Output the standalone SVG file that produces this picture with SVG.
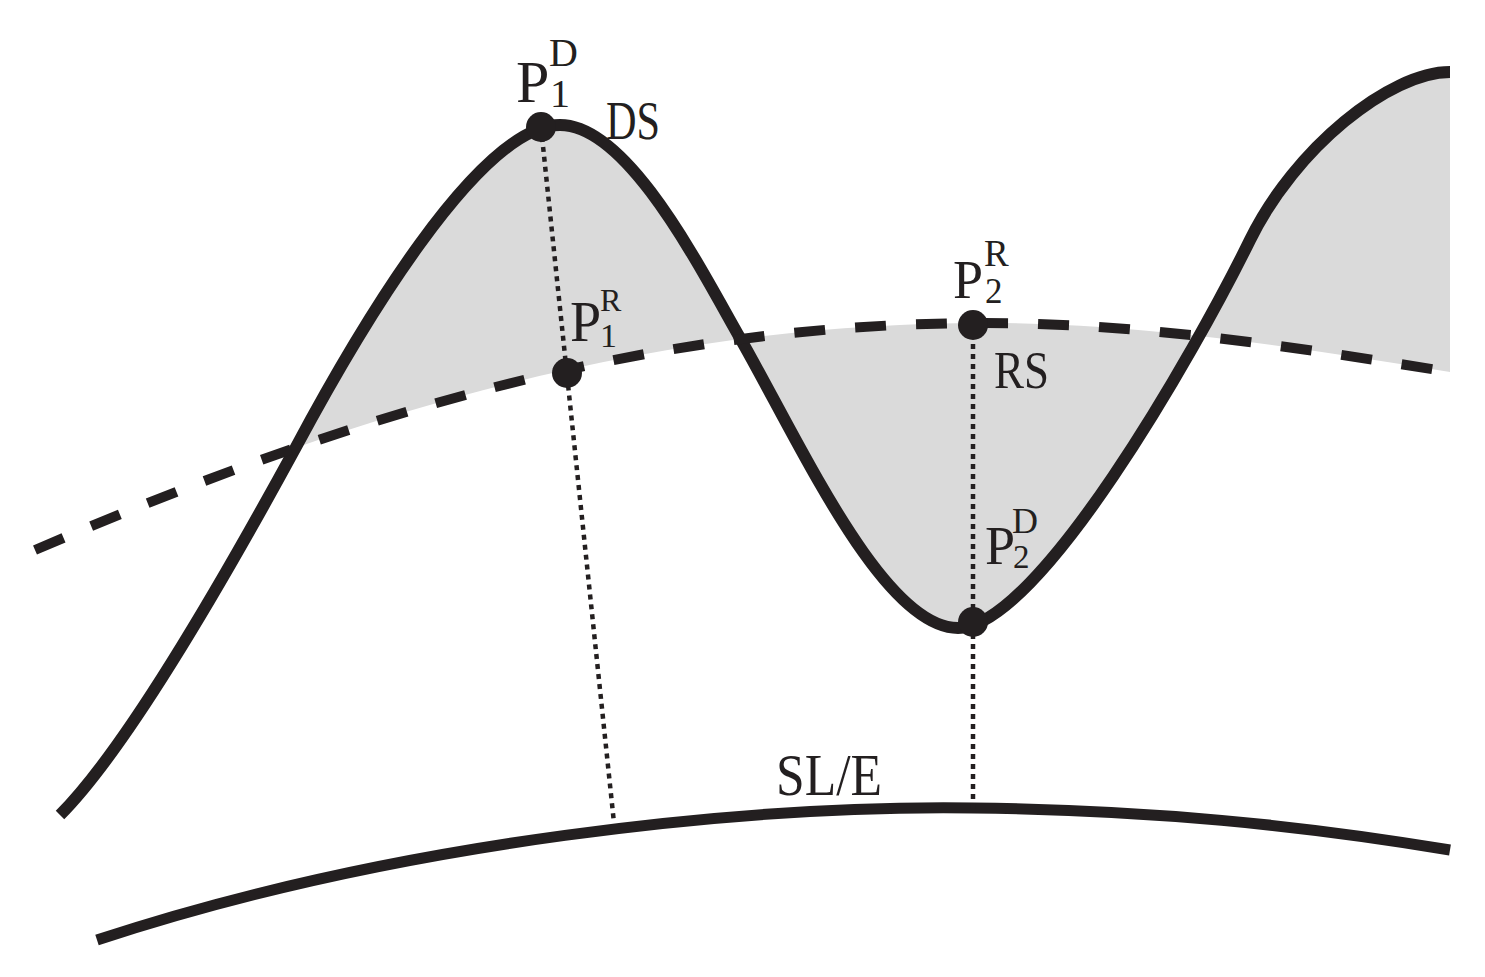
<svg xmlns="http://www.w3.org/2000/svg" width="1485" height="977" viewBox="0 0 1485 977">
  <style>
    .ink { fill: none; stroke: #231f20; stroke-linecap: butt; }
    .ds { stroke-width: 12; }
    .rs { stroke-width: 10; stroke-dasharray: 31 30; }
    .sle { stroke-width: 11; }
    .dot { fill: none; stroke: #231f20; stroke-width: 4.5; stroke-dasharray: 5 5; }
    .pt { fill: #231f20; }
    .t { font-family: "Liberation Serif", "Times New Roman", serif; fill: #231f20; }
  </style>
  <defs>
    <clipPath id="shadeClip">
      <rect x="296" y="0" width="1154" height="977"/>
    </clipPath>
  </defs>
  <rect x="0" y="0" width="1485" height="977" fill="#ffffff"/>

  <g id="shading" clip-path="url(#shadeClip)">
    <path fill="#dadada" fill-rule="evenodd" d="M60,815 C130,745 235,559 296,447 C356,335 478,125 560,125 C628,125 700,268 740,338 C800,443 883,628 958,628 C1038,628 1195,352 1250,240 C1295,148 1390,72 1450,72 L1450,980 L60,980 Z M35,550 C335,421 635,323 985,323 C1140,323 1295,347 1450,372 L1450,980 L35,980 Z"/>
  </g>

  <g id="curve-ds">
    <path class="ink ds" d="M60,815 C130,745 235,559 296,447 C356,335 478,125 560,125 C628,125 700,268 740,338 C800,443 883,628 958,628 C1038,628 1195,352 1250,240 C1295,148 1390,72 1450,72"/>
  </g>
  <g id="curve-rs">
    <path class="ink rs" d="M35,550 C335,421 635,323 985,323 C1140,323 1295,347 1450,372"/>
  </g>
  <g id="curve-sle">
    <path class="ink sle" d="M97,940 C400,840 750,805 973,808 C1150,810 1300,825 1450,850"/>
  </g>

  <g id="connectors">
    <line class="dot" x1="541" y1="127" x2="614" y2="823"/>
    <line class="dot" x1="973" y1="324" x2="973" y2="810"/>
  </g>

  <g id="p1d">
    <circle class="pt" cx="541" cy="127" r="15"/>
    <text class="t" x="516" y="102" font-size="60">P</text>
    <text class="t" x="549" y="66" font-size="40">D</text>
    <text class="t" x="550" y="107" font-size="40">1</text>
  </g>
  <g id="p1r">
    <circle class="pt" cx="567" cy="373" r="15"/>
    <text class="t" x="570" y="341" font-size="56">P</text>
    <text class="t" x="600" y="311" font-size="32">R</text>
    <text class="t" x="600" y="347" font-size="34">1</text>
  </g>
  <g id="p2r">
    <circle class="pt" cx="973" cy="325" r="15"/>
    <text class="t" x="953" y="298" font-size="54">P</text>
    <text class="t" x="984" y="266" font-size="37">R</text>
    <text class="t" x="985" y="303" font-size="35">2</text>
  </g>
  <g id="p2d">
    <circle class="pt" cx="973" cy="622" r="15"/>
    <text class="t" x="985" y="564" font-size="54">P</text>
    <text class="t" x="1012" y="533" font-size="36">D</text>
    <text class="t" x="1013" y="568" font-size="33">2</text>
  </g>

  <g id="label-ds">
    <text class="t" x="606" y="139" font-size="54" textLength="54" lengthAdjust="spacingAndGlyphs">DS</text>
  </g>
  <g id="label-rs">
    <text class="t" x="994" y="388" font-size="53" textLength="55" lengthAdjust="spacingAndGlyphs">RS</text>
  </g>
  <g id="label-sle">
    <text class="t" x="776" y="795" font-size="60" textLength="106" lengthAdjust="spacingAndGlyphs">SL/E</text>
  </g>
</svg>
